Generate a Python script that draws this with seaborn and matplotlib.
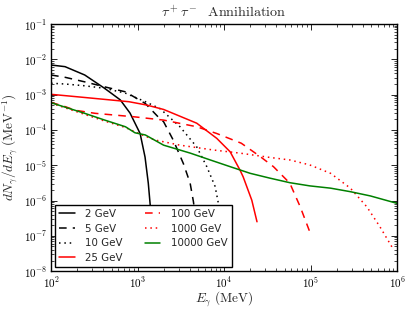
import numpy as np
import pandas as pd
import seaborn as sns
import matplotlib
matplotlib.use("Agg")
import matplotlib.pyplot as plt
from matplotlib.ticker import FuncFormatter, LogLocator, NullFormatter, FixedLocator

# values (E in MeV, dN/dE in MeV^-1)
e_2 = [100, 145, 245, 417, 631, 818, 1070, 1220, 1330, 1400, 1430]
y_2 = [6.9e-3, 6.2e-3, 3.6e-3, 1.5e-3, 7.1e-4, 3.0e-4, 7.9e-5, 1.7e-5, 3.1e-6, 7.4e-7, 1.0e-7]

e_5 = [100, 145, 245, 417, 724, 1230, 1740, 2000, 2590, 3390, 4050, 4420, 4680]
y_5 = [3.6e-3, 3.1e-3, 2.3e-3, 1.66e-3, 1.2e-3, 5.6e-4, 2.3e-4, 1.7e-4, 5.1e-5, 1.1e-5, 3.1e-6, 9.3e-7, 3.2e-7]

e_10 = [100, 145, 245, 417, 724, 1230, 1820, 3090, 4830, 6310, 7870, 8590, 9120]
y_10 = [2.1e-3, 2.0e-3, 1.78e-3, 1.51e-3, 1.1e-3, 6.3e-4, 4.0e-4, 1.23e-4, 3.3e-5, 9.1e-6, 2.5e-6, 8.3e-7, 3.2e-7]

e_25 = [100, 245, 794, 1260, 2000, 4830, 8240, 11750, 15300, 16600, 20900, 24000]
y_25 = [1.02e-3, 8.3e-4, 6.3e-4, 5.1e-4, 3.8e-4, 1.55e-4, 5.75e-5, 2.4e-5, 7.2e-6, 4.7e-6, 1.02e-6, 2.5e-7]

e_100 = [100, 141, 191, 324, 550, 933, 2000, 4830, 8240, 15800, 26300, 37200, 57500, 75900, 97700]
y_100 = [6.0e-4, 4.7e-4, 3.6e-4, 2.95e-4, 2.63e-4, 2.34e-4, 1.9e-4, 1.23e-4, 7.9e-5, 4.2e-5, 1.74e-5, 9.1e-6, 3.1e-6, 6.6e-7, 1.3e-7]

e_1000 = [100, 245, 417, 724, 1070, 1580, 3090, 7520, 15300, 33900, 57500, 97700, 170000, 288000, 447000, 631000, 912000]
y_1000 = [5.75e-4, 2.75e-4, 1.78e-4, 1.17e-4, 7.6e-5, 5.2e-5, 3.7e-5, 2.7e-5, 2.2e-5, 1.66e-5, 1.41e-5, 1.02e-5, 5.9e-6, 2.24e-6, 6.6e-7, 1.82e-7, 4.0e-8]

e_10000 = [100, 245, 417, 724, 933, 1230, 2000, 4070, 6920, 11750, 20000, 33900, 57500, 97700, 170000, 288000, 490000, 1000000]
y_10000 = [5.9e-4, 2.95e-4, 1.9e-4, 1.23e-4, 8.3e-5, 7.2e-5, 3.7e-5, 2.2e-5, 1.41e-5, 9.1e-6, 5.9e-6, 4.3e-6, 3.2e-6, 2.6e-6, 2.24e-6, 1.78e-6, 1.35e-6, 8.3e-7]

labels = ["2 GeV", "5 GeV", "10 GeV", "25 GeV", "100 GeV", "1000 GeV", "10000 GeV"]
energies = [e_2, e_5, e_10, e_25, e_100, e_1000, e_10000]
spectra = [y_2, y_5, y_10, y_25, y_100, y_1000, y_10000]
colors = ["black", "black", "black", "red", "red", "red", "green"]
styles = ["-", (0, (5, 4)), (0, (1, 2.5)), "-", (0, (5, 4)), (0, (1, 2.5)), "-"]

x_ticks = [1e2, 1e3, 1e4, 1e5, 1e6]
y_ticks = [1e-8, 1e-7, 1e-6, 1e-5, 1e-4, 1e-3, 1e-2, 1e-1]

sns.set_style("ticks", {"xtick.direction": "in", "ytick.direction": "in"})
plt.rcParams["font.family"] = ["DejaVu Sans"]
plt.rcParams["mathtext.fontset"] = "cm"

fig = plt.figure(figsize=(4.15, 3.12), dpi=100)
ax = fig.add_axes([0.123, 0.131, 0.834, 0.792])

for e, y, lab, c, ls in zip(energies, spectra, labels, colors, styles):
    df = pd.DataFrame({"E": e, "dNdE": y})
    sns.lineplot(data=df, x="E", y="dNdE", ax=ax, color=c, linestyle=ls,
                 linewidth=1.1, label=lab, sort=False)

ax.set_xscale("log")
ax.set_yscale("log")
ax.set_xlim(1e2, 1e6)
ax.set_ylim(1e-8, 1e-1)

fmt = FuncFormatter(lambda v, p: r"$10^{%d}$" % int(round(np.log10(v))))
ax.xaxis.set_major_locator(FixedLocator(x_ticks))
ax.yaxis.set_major_locator(FixedLocator(y_ticks))
ax.xaxis.set_minor_locator(LogLocator(base=10, subs=np.arange(2, 10), numticks=20))
ax.yaxis.set_minor_locator(LogLocator(base=10, subs=np.arange(2, 10), numticks=20))
ax.xaxis.set_major_formatter(fmt)
ax.yaxis.set_major_formatter(fmt)
ax.xaxis.set_minor_formatter(NullFormatter())
ax.yaxis.set_minor_formatter(NullFormatter())
ax.tick_params(which="both", top=True, right=True, direction="in", labelsize=8, colors="black")
ax.tick_params(which="major", length=4, width=0.6, pad=3)
ax.tick_params(which="minor", length=2, width=0.5)
for s in ax.spines.values():
    s.set_color("black")
    s.set_linewidth(1.0)

ax.set_title(r"$\tau^+\tau^-\ \ \mathrm{Annihilation}$", fontsize=10.2, pad=5)
ax.set_xlabel(r"$E_\gamma\ (\mathrm{MeV})$", fontsize=9.5)
ax.set_ylabel(r"$dN_\gamma/dE_\gamma\ (\mathrm{MeV}^{-1})$", fontsize=9.5)
ax.xaxis.set_label_coords(0.5, -0.075)
ax.yaxis.set_label_coords(-0.09, 0.5)

leg = ax.legend(loc="lower left", ncol=2, fontsize=7.4, frameon=True, fancybox=False,
                framealpha=1, edgecolor="black", handlelength=1.5, handletextpad=1.0,
                columnspacing=2.2, labelspacing=0.45, borderaxespad=0.4, borderpad=0.4)
leg.get_frame().set_linewidth(1.0)

fig.savefig("out.png", dpi=100)
